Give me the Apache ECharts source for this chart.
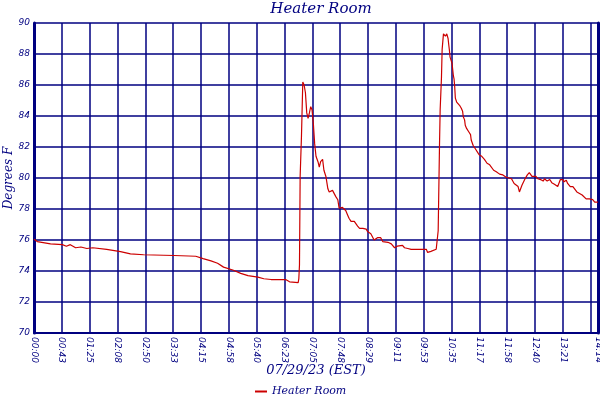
<!DOCTYPE html>
<html>
<head>
<meta charset="utf-8">
<title>Heater Room</title>
<script src="https://cdn.jsdelivr.net/npm/echarts@6/dist/echarts.min.js"></script>
<style>
    html, body { margin: 0; padding: 0; background: #fff; }
    #heater_line { width: 600px; height: 400px; }
</style>
</head>
<body>
<div id="heater_line"></div>
<script>

// Chart data
// ------------------------------

// Minutes after midnight, 07/29/23 (EST)
var sampleMinutes = [
    0, 5, 25, 43, 49, 55, 63, 71, 80, 89, 110, 131, 146, 166, 212, 245, 256, 268, 278, 287,
    302, 313, 324, 339, 348, 359, 381, 387, 400, 401, 402, 403, 405, 407, 409, 411, 413, 415, 417, 419,
    421, 423, 425, 427, 430, 432, 434, 437, 439, 442, 445, 447, 450, 452, 455, 457, 460, 462, 465, 467,
    470, 472, 475, 477, 480, 485, 488, 490, 493, 495, 498, 500, 503, 505, 508, 510, 513, 515, 518, 520,
    525, 528, 530, 536, 541, 546, 548, 550, 553, 558, 561, 566, 571, 575, 586, 594, 596, 599, 601, 604,
    609, 611, 612, 614, 615, 617, 618, 620, 621, 623, 625, 627, 628, 629, 630, 633, 634, 635, 636, 637,
    638, 640, 643, 645, 647, 649, 650, 652, 653, 655, 658, 661, 662, 665, 668, 671, 674, 678, 682, 686,
    690, 693, 696, 700, 705, 710, 715, 718, 723, 727, 730, 733, 735, 737, 739, 743, 747, 750, 753, 754,
    757, 760, 763, 767, 771, 773, 777, 781, 784, 788, 791, 793, 796, 797, 801, 802, 806, 808, 812, 816,
    818, 822, 826, 830, 833, 836, 841, 846, 849, 854
];

// Degrees F
var heaterRoom = [
    76.05, 75.9, 75.75, 75.7, 75.6, 75.7, 75.5, 75.55, 75.45, 75.5, 75.4, 75.25, 75.1, 75.05, 75.0, 74.95, 74.8, 74.65, 74.5, 74.25,
    74.05, 73.85, 73.7, 73.6, 73.5, 73.45, 73.45, 73.3, 73.25, 73.5, 74.4, 80.1, 82.7, 86.2, 86.0, 85.5, 84.2, 83.85, 84.2, 84.6,
    84.4, 83.5, 82.2, 81.4, 81.05, 80.7, 81.05, 81.2, 80.5, 80.1, 79.3, 79.1, 79.0, 79.2, 79.1, 78.8, 78.6, 78.05, 78.0, 78.1,
    78.0, 77.9, 77.6, 77.4, 77.2, 77.2, 77.15, 76.9, 76.75, 76.7, 76.75, 76.7, 76.7, 76.55, 76.5, 76.4, 76.35, 76.0, 76.05, 76.15,
    76.15, 75.9, 75.9, 75.85, 75.75, 75.5, 75.45, 75.6, 75.65, 75.65, 75.5, 75.45, 75.4, 75.4, 75.4, 75.4, 75.2, 75.15, 75.27, 75.35,
    75.4, 75.45, 76.6, 82.1, 84.4, 86.5, 88.3, 89.3, 89.3, 89.15, 89.3, 89.0, 88.6, 88.25, 87.8, 87.4, 87.0, 86.6, 86.4, 85.9,
    85.15, 84.9, 84.85, 84.65, 84.5, 84.3, 83.95, 83.75, 83.4, 83.2, 83.0, 82.8, 82.45, 82.1, 81.9, 81.7, 81.5, 81.4, 81.2, 80.95,
    80.85, 80.75, 80.5, 80.4, 80.25, 80.2, 80.05, 79.95, 79.95, 79.65, 79.6, 79.45, 79.1, 79.1, 79.55, 79.9, 80.2, 80.35, 80.4, 80.1,
    80.2, 80.1, 79.95, 79.9, 79.8, 79.95, 79.8, 79.9, 79.7, 79.6, 79.7, 79.45, 79.35, 79.9, 79.9, 79.75, 79.85, 79.65, 79.45, 79.45,
    79.4, 79.1, 79.0, 78.9, 78.85, 78.65, 78.65, 78.6, 78.45, 78.45
];

// Time axis tick labels, one per grid line (last one is the end of data)
var timeLabels = [
    '00:00', '00:43', '01:25', '02:08', '02:50', '03:33', '04:15', '04:58', '05:40', '06:23', '07:05',
    '07:48', '08:29', '09:11', '09:53', '10:35', '11:17', '11:58', '12:40', '13:21', '14:03', '14:14'
];

var timeStep = 42.15;   // minutes between grid lines
var timeEnd = 854;      // 14:14


// Setup module
// ------------------------------

var HeaterRoomChart = function() {

    var navy = '#000080';
    var italicSerif = 'DejaVu Serif';
    var italicSans = 'DejaVu Sans';

    var _heaterRoomLine = function() {
        if (typeof echarts == 'undefined') {
            console.warn('Warning - echarts.min.js is not loaded.');
            return;
        }

        var heater_element = document.getElementById('heater_line');
        if (!heater_element) {
            return;
        }

        var heater_line = echarts.init(heater_element);

        // Pair up times and readings
        var points = [];
        for (var i = 0; i < sampleMinutes.length; i++) {
            points.push([sampleMinutes[i], heaterRoom[i]]);
        }

        heater_line.setOption({

            animation: false,

            // Title
            title: {
                text: 'Heater Room',
                left: 316,
                top: -3,
                textAlign: 'center',
                textStyle: {
                    fontFamily: italicSerif,
                    fontStyle: 'italic',
                    fontWeight: 'normal',
                    fontSize: 15,
                    color: navy
                }
            },

            // Legend
            legend: {
                data: ['Heater Room'],
                left: 255,
                top: 386,
                padding: 0,
                icon: 'rect',
                itemWidth: 12,
                itemHeight: 2,
                textStyle: {
                    fontFamily: italicSerif,
                    fontStyle: 'italic',
                    fontSize: 11,
                    color: navy
                }
            },

            // Setup grid
            grid: {
                left: 34,
                right: 2,
                top: 23,
                bottom: 67,
                outerBoundsMode: 'none',
                containLabel: false
            },

            // Horizontal axis
            xAxis: {
                type: 'value',
                min: 0,
                max: timeEnd,
                interval: timeStep,
                name: '07/29/23 (EST)',
                nameLocation: 'middle',
                nameGap: 31,
                nameMoveOverlap: false,
                nameTextStyle: {
                    fontFamily: italicSerif,
                    fontStyle: 'italic',
                    fontSize: 13,
                    color: navy
                },
                axisLine: {
                    lineStyle: { color: navy, width: 2 }
                },
                axisTick: { show: false },
                axisLabel: {
                    rotate: -90,
                    margin: 4,
                    showMinLabel: true,
                    showMaxLabel: true,
                    hideOverlap: false,
                    fontFamily: italicSans,
                    fontStyle: 'italic',
                    fontSize: 9,
                    color: navy,
                    formatter: function(v) {
                        if (v >= timeEnd) {
                            return timeLabels[timeLabels.length - 1];
                        }
                        return timeLabels[Math.round(v / timeStep)];
                    }
                },
                splitLine: {
                    show: true,
                    lineStyle: { color: navy, width: 1.5 }
                }
            },

            // Vertical axes (right one only draws the frame)
            yAxis: [{
                type: 'value',
                min: 70,
                max: 90,
                interval: 2,
                name: 'Degrees F',
                nameLocation: 'middle',
                nameGap: 19,
                nameMoveOverlap: false,
                nameTextStyle: {
                    fontFamily: italicSerif,
                    fontStyle: 'italic',
                    fontSize: 12,
                    color: navy
                },
                axisLine: {
                    show: true,
                    lineStyle: { color: navy, width: 3 }
                },
                axisTick: { show: false },
                axisLabel: {
                    margin: 4,
                    fontFamily: italicSans,
                    fontStyle: 'italic',
                    fontSize: 9,
                    color: navy
                },
                splitLine: {
                    lineStyle: { color: navy, width: 1.5 }
                }
            }, {
                type: 'value',
                position: 'right',
                min: 70,
                max: 90,
                interval: 2,
                axisLine: {
                    show: true,
                    lineStyle: { color: navy, width: 3 }
                },
                axisTick: { show: false },
                axisLabel: { show: false },
                splitLine: { show: false }
            }],

            // Series
            series: [{
                name: 'Heater Room',
                type: 'line',
                data: points,
                showSymbol: false,
                color: '#cc0000',
                lineStyle: {
                    color: '#cc0000',
                    width: 1.2
                }
            }]
        });

        window.addEventListener('resize', function() {
            heater_line.resize();
        });
    };

    return {
        init: function() {
            _heaterRoomLine();
        }
    }
}();


// Initialize module
// ------------------------------

document.addEventListener('DOMContentLoaded', function() {
    HeaterRoomChart.init();
});
</script>
</body>
</html>
